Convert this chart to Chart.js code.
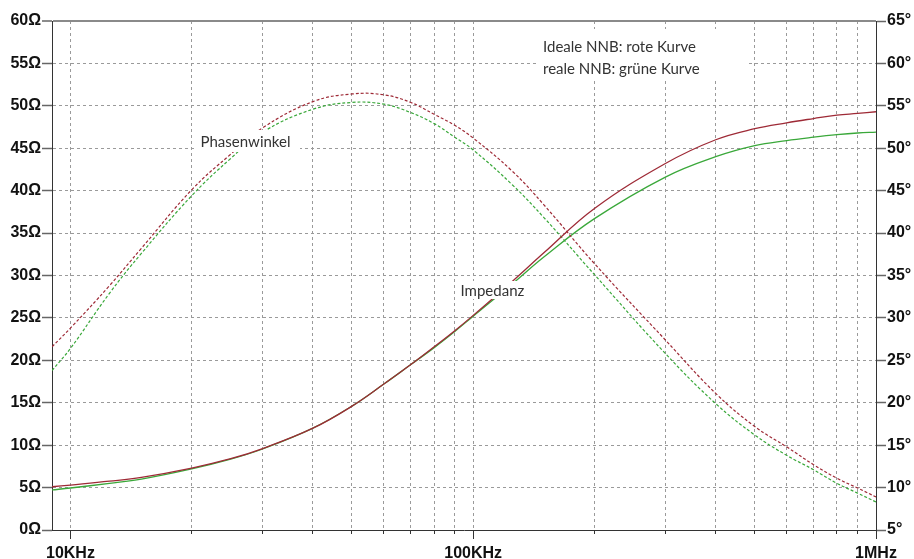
<!DOCTYPE html>
<html>
<head>
<meta charset="utf-8">
<script src="https://cdn.jsdelivr.net/npm/chart.js@4.4.0/dist/chart.umd.min.js"></script>
<style>
html,body{margin:0;padding:0;background:#ffffff;}
#wrap{width:914px;height:559px;}
</style>
</head>
<body>
<div id="wrap"><canvas id="c" width="914" height="559"></canvas></div>
<script>
// ---- data ----
const freqs = [9000,10000,12500,15000,20000,25000,30000,40000,50000,60000,70000,80000,90000,100000,125000,150000,200000,300000,400000,500000,600000,700000,800000,900000,1000000];
// Impedance in Ohm
const impedanceIdeal = [5.1,5.3,5.75,6.2,7.3,8.4,9.6,12.0,14.6,17.2,19.5,21.6,23.5,25.3,29.3,32.7,37.9,43.2,46.0,47.3,48.0,48.5,48.9,49.1,49.3];
const impedanceReal  = [4.72,4.95,5.5,6.0,7.2,8.35,9.55,12.0,14.6,17.2,19.5,21.5,23.4,25.2,29.0,32.2,36.7,41.6,44.0,45.3,45.9,46.3,46.6,46.8,46.9];
// Phase angle in degrees
const phaseIdeal = [26.6,28.8,33.8,38.2,45.1,49.3,52.4,55.5,56.4,56.3,55.4,54.0,52.7,51.2,47.3,43.3,36.4,27.4,21.1,17.2,14.8,12.7,11.1,9.95,8.9];
const phaseReal  = [23.8,26.4,32.9,37.6,44.4,48.8,51.9,54.6,55.4,55.2,54.2,52.9,51.3,49.8,45.7,41.8,35.1,25.8,19.9,16.2,13.8,12.1,10.5,9.35,8.3];

// axis ticks
const xMajorTicks  = [10000, 100000, 1000000];
const xMajorLabels = ['10KHz', '100KHz', '1MHz'];
const xGridTicks = [10000,20000,30000,40000,50000,60000,70000,80000,90000,
                    100000,200000,300000,400000,500000,600000,700000,800000,900000,1000000];
const ohmUnit = 'Ω';
const degUnit = '°';

// annotation texts
const legendLines = ['Ideale NNB: rote Kurve', 'reale NNB: grüne Kurve'];
const phaseLabel = 'Phasenwinkel';
const impedanceLabel = 'Impedanz';

// ---- styling ----
const RED = '#9e2a36';
const GREEN = '#3aa83a';
const GRID = '#9a9a9a';
const AXIS = '#333333';
const TICKFONT = {family: "'Liberation Sans', Arial, sans-serif", size: 16, weight: 'bold'};

function pts(ys){ return freqs.map((f,i)=>({x:f, y:ys[i]})); }

const annotations = {
  id: 'annotations',
  afterDatasetsDraw(chart){
    const ctx = chart.ctx;
    ctx.save();
    ctx.font = '100px Lato';
    const w100 = ctx.measureText(legendLines[0]).width;
    const size = Math.min(17, 153 * 100 / w100);
    const font = size.toFixed(2) + 'px Lato';
    const boxes = [
      {rect:[539,29,209,50], lines:[[legendLines[0],543,52],[legendLines[1],543,74]]},
      {rect:[197,130,103,22], lines:[[phaseLabel,200.5,146.5]]},
      {rect:[456,281,74,18], lines:[[impedanceLabel,460.5,296]]}
    ];
    ctx.fillStyle = '#ffffff';
    boxes.forEach(b=>ctx.fillRect(b.rect[0],b.rect[1],b.rect[2],b.rect[3]));
    ctx.font = font;
    ctx.fillStyle = '#333333';
    ctx.textAlign = 'left';
    ctx.textBaseline = 'alphabetic';
    boxes.forEach(b=>b.lines.forEach(l=>ctx.fillText(l[0],l[1],l[2])));
    ctx.restore();
  },
  afterDraw(chart){
    const ctx = chart.ctx, xs = chart.scales.x, bottom = chart.chartArea.bottom;
    ctx.save();
    ctx.strokeStyle = AXIS;
    ctx.lineWidth = 1;
    xMajorTicks.forEach(v=>{
      const px = Math.round(xs.getPixelForValue(v)) + 0.5;
      ctx.beginPath(); ctx.moveTo(px, bottom); ctx.lineTo(px, bottom + 9); ctx.stroke();
    });
    ctx.restore();
  }
};

new Chart(document.getElementById('c'), {
  type: 'line',
  data: {
    datasets: [
      {label:'Impedanz ideal', data: pts(impedanceIdeal), yAxisID:'y', borderColor: RED, borderWidth:1.3, fill:false},
      {label:'Phase ideal', data: pts(phaseIdeal), yAxisID:'y2', borderColor: RED, borderWidth:1.2, borderDash:[3,2], fill:false},
      {label:'Impedanz real', data: pts(impedanceReal), yAxisID:'y', borderColor: GREEN, borderWidth:1.3, fill:false},
      {label:'Phase real', data: pts(phaseReal), yAxisID:'y2', borderColor: GREEN, borderWidth:1.2, borderDash:[3,2], fill:false}
    ]
  },
  options: {
    responsive: false,
    animation: false,
    devicePixelRatio: 1,
    layout: {padding: {top: 21, left: 0, right: 0, bottom: 0}},
    elements: {point: {radius: 0}, line: {tension: 0.4, cubicInterpolationMode: 'default'}},
    plugins: {legend: {display: false}, tooltip: {enabled: false}},
    scales: {
      x: {
        type: 'logarithmic', position: 'bottom', min: 9000, max: 1000000,
        afterBuildTicks: s => { s.ticks = xGridTicks.map(v => ({value: v})); },
        afterFit: s => { s.height = 29; },
        ticks: {
          autoSkip: false, maxRotation: 0, minRotation: 0, padding: 10,
          color: '#111', font: TICKFONT,
          callback: (v) => { const i = xMajorTicks.indexOf(v); return i >= 0 ? xMajorLabels[i] : ''; }
        },
        grid: {color: GRID, lineWidth: 1, tickLength: 4, tickColor: AXIS, tickWidth: 1},
        border: {display: true, color: AXIS, width: 1, dash: [3,3]}
      },
      y: {
        type: 'linear', position: 'left', min: 0, max: 60,
        afterFit: s => { s.width = 52; },
        ticks: {stepSize: 5, padding: 1, color: '#111', font: TICKFONT, callback: v => v + ohmUnit},
        grid: {
          color: c => (c.tick && c.tick.value === 60) ? '#8a8a8a' : GRID,
          lineWidth: c => (c.tick && c.tick.value === 60) ? 2 : 1,
          tickLength: 10, tickColor: '#666', tickWidth: 1.5
        },
        border: {display: true, color: AXIS, width: 1,
          dash: c => (c.tick && c.tick.value === 60) ? [] : [3,3]}
      },
      y2: {
        type: 'linear', position: 'right', min: 5, max: 65,
        afterFit: s => { s.width = 38; },
        ticks: {stepSize: 5, padding: 1, color: '#111', font: TICKFONT, callback: v => v + degUnit},
        grid: {drawOnChartArea: false, tickLength: 10, tickColor: '#666', tickWidth: 1.5},
        border: {display: true, color: AXIS, width: 1}
      }
    }
  },
  plugins: [annotations]
});
</script>
</body>
</html>
